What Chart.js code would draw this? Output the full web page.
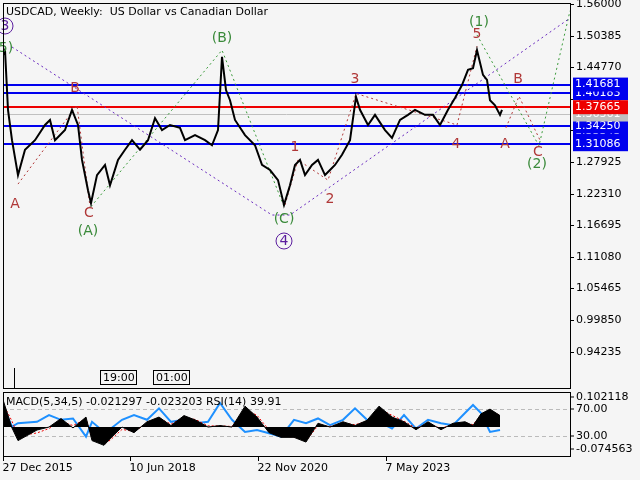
<!DOCTYPE html>
<html><head><meta charset="utf-8">
<script src="https://cdn.jsdelivr.net/npm/chart.js@4/dist/chart.umd.min.js"></script>
<style>
body{margin:0;background:#f5f5f5;width:640px;height:480px;overflow:hidden;position:relative;font-family:"DejaVu Sans"}
.w{position:absolute;left:0}
</style></head><body>
<div class="w" style="top:0;width:640px;height:392px"><canvas id="m" width="640" height="392"></canvas></div>
<div class="w" style="top:389px;width:640px;height:91px"><canvas id="i" width="640" height="91"></canvas></div>
<script>
// Price (week index, close)
const priceWeeks=[0,2,5,9,15,22,32,42,47,52,62,69,75,79,85,88,94,102,107,115,122,129,137,145,152,159,167,177,182,192,202,209,215,219,223,227,232,242,252,259,267,275,281,287,292,297,302,309,315,322,327,332,339,347,353,357,365,372,382,389,397,405,412,422,430,437,445,452,459,465,470,474,480,484,487,492,497,499];
const priceVals=[1.469,1.478,1.372,1.318,1.256,1.301,1.318,1.345,1.354,1.318,1.336,1.372,1.345,1.283,1.229,1.206,1.256,1.274,1.238,1.283,1.301,1.318,1.301,1.318,1.357,1.336,1.345,1.340,1.318,1.327,1.318,1.309,1.336,1.466,1.407,1.389,1.354,1.327,1.309,1.274,1.265,1.247,1.203,1.238,1.274,1.283,1.256,1.274,1.283,1.256,1.265,1.274,1.292,1.318,1.395,1.372,1.345,1.363,1.336,1.322,1.354,1.363,1.372,1.363,1.363,1.345,1.372,1.393,1.416,1.443,1.446,1.478,1.434,1.425,1.389,1.380,1.363,1.372];
const yTicks=[1.56000,1.50385,1.44770,1.39155,1.33540,1.27925,1.22310,1.16695,1.11080,1.05465,0.99850,0.94235];
const blueLevels=[1.41681,1.40183,1.34250,1.31086];
const redLevel=1.37665, grayLevel=1.36361;
// Wave paths [week, price]
const purpleWave=[[9,1.4836],[269,1.185],[287,1.185],[567,1.535]];
const greenWave1=[[88,1.20],[219,1.478],[281,1.200]];
const greenWave2=[[474,1.505],[536,1.308],[567,1.548]];
const redWave1=[[15,1.240],[74,1.380],[87,1.200]];
const redWave2=[[282,1.203],[295,1.283],[325,1.247],[353,1.401],[454,1.345],[474,1.485]];
const redWave3=[[503,1.340],[516,1.396],[537,1.318]];
const labels=[["3",2,26,"#5b1d9e",true],["5)",3,48,"#3a8a3a"],["(1)",476,22,"#3a8a3a"],["5",474,34,"#b03838"],["3",352,79,"#b03838"],["B",72,88,"#b03838"],["B",515,79,"#b03838"],["A",12,204,"#b03838"],["A",502,144,"#b03838"],["C",86,213,"#b03838"],["C",535,152,"#b03838"],["(A)",85,231,"#3a8a3a"],["(B)",219,38,"#3a8a3a"],["(C)",281,219,"#3a8a3a"],["(2)",534,164,"#3a8a3a"],["1",292,147,"#b03838"],["2",327,199,"#b03838"],["4",453,144,"#b03838"],["4",281,241,"#5b1d9e",true]];
// Indicator
const indWeeks=[0,9,15,34,46,58,70,83,89,101,107,119,131,144,156,168,181,193,205,217,229,242,254,266,278,291,303,315,327,340,352,364,376,389,401,413,425,438,450,462,470,478,487,497];
const macdHist=[0.093,-0.003,-0.046,-0.01,0,0.029,-0.003,0.034,-0.046,-0.062,-0.04,0,-0.019,0.018,0.034,0.005,0.039,0.023,0,0.005,0,0.071,0.034,-0.019,-0.035,-0.035,-0.051,0.013,0,0.018,0.005,0.023,0.071,0.034,0.018,-0.009,0.018,-0.009,0.013,0.018,0.005,0.045,0.061,0.039];
const macdSignal=[0.08,0.02,-0.03,-0.02,-0.005,0.02,0.005,0.028,-0.035,-0.058,-0.045,-0.008,-0.015,0.012,0.03,0.01,0.034,0.025,0.004,0.004,0.002,0.06,0.04,-0.01,-0.03,-0.034,-0.047,0.005,0.002,0.014,0.008,0.02,0.062,0.04,0.02,-0.004,0.012,-0.005,0.01,0.015,0.008,0.04,0.055,0.04];
const rsiVals=[74,44,49,51,61,54,56,29,51,36,40,54,61,54,71,51,54,49,51,79,54,36,39,34,29,54,49,56,46,54,71,54,51,41,61,41,54,49,46,64,76,64,36,39];
const dateLabels=[["27 Dec 2015",0],["10 Jun 2018",127],["22 Nov 2020",255],["7 May 2023",383]];

const pts=(w,v)=>w.map((x,k)=>({x:x,y:v[k]}));
const wp=a=>a.map(p=>({x:p[0],y:p[1]}));
const dash=(d,c)=>({data:wp(d),borderColor:c,borderWidth:1,borderDash:[2,3],pointRadius:0,fill:false});
const lvlPlugin={id:'lvl',
 beforeDatasetsDraw(ch){const c=ch.ctx,a=ch.chartArea,y=ch.scales.y;
  c.save();
  c.strokeStyle='#c0c0c0';c.lineWidth=1;c.beginPath();c.moveTo(a.left,y.getPixelForValue(grayLevel));c.lineTo(a.right,y.getPixelForValue(grayLevel));c.stroke();
  c.lineWidth=2;c.strokeStyle='#0000ee';
  blueLevels.forEach(v=>{const py=Math.round(y.getPixelForValue(v));c.beginPath();c.moveTo(a.left,py);c.lineTo(a.right,py);c.stroke();});
  c.strokeStyle='#ee0000';const pr=Math.round(y.getPixelForValue(redLevel));c.beginPath();c.moveTo(a.left,pr);c.lineTo(a.right,pr);c.stroke();
  c.restore();},
 afterDraw(ch){const c=ch.ctx,a=ch.chartArea,y=ch.scales.y;
  c.save();c.font='11px "DejaVu Sans"';c.textBaseline='middle';c.strokeStyle='#000';c.lineWidth=1;c.fillStyle='#000';
  c.beginPath();c.moveTo(a.right+0.5,a.top);c.lineTo(a.right+0.5,a.bottom);c.stroke();
  yTicks.forEach(v=>{const py=Math.round(y.getPixelForValue(v))+0.5;c.beginPath();c.moveTo(a.right,py);c.lineTo(a.right+4,py);c.stroke();c.fillText(v.toFixed(5),a.right+6,py);});
  const box=(v,bg,fg)=>{const py=y.getPixelForValue(v);c.fillStyle=bg;c.fillRect(573,py-7,55,14);c.fillStyle=fg;c.textAlign='left';c.fillText(v.toFixed(5),575,py);};
  box(1.33343,'#0000ee','#fff');box(1.31086,'#0000ee','#fff');box(1.34250,'#0000ee','#fff');
  box(grayLevel,'#c0c0c0','#fff');box(redLevel,'#ee0000','#fff');box(1.40183,'#0000ee','#fff');box(1.41681,'#0000ee','#fff');
  c.font='14px "DejaVu Sans"';c.textAlign='center';
  labels.forEach(l=>{c.fillStyle=l[3];c.fillText(l[0],l[1]+3,l[2]);if(l[4]){c.strokeStyle=l[3];c.lineWidth=1;c.beginPath();c.arc(l[1]+3,l[2],8,0,7);c.stroke();}});
  c.font='11px "DejaVu Sans"';c.fillStyle='#000';c.textAlign='left';
  c.fillText('USDCAD, Weekly:  US Dollar vs Canadian Dollar',6,12);
  c.strokeStyle='#000';c.lineWidth=1;
  c.beginPath();c.moveTo(14.5,368);c.lineTo(14.5,388);c.stroke();
  [['19:00',100],['01:00',153]].forEach(t=>{c.strokeRect(t[1]+0.5,370.5,36,14);c.fillText(t[0],t[1]+3,378);});
  c.strokeRect(a.left+0.5,a.top+0.5,a.right-a.left,a.bottom-a.top);
  c.restore();}};
new Chart(document.getElementById('m'),{type:'line',
 data:{datasets:[
  {data:pts(priceWeeks,priceVals),borderColor:'#000',borderWidth:2,pointRadius:0,tension:0},
  dash(purpleWave,'#6a2bbf'),dash(greenWave1,'#3a9a3a'),dash(greenWave2,'#3a9a3a'),
  dash(redWave1,'#b03838'),dash(redWave2,'#b03838'),dash(redWave3,'#b03838')]},
 options:{responsive:false,animation:false,devicePixelRatio:1,
  layout:{padding:{left:3,top:3,right:70,bottom:4}},
  plugins:{legend:{display:false},tooltip:{enabled:false}},
  scales:{x:{type:'linear',min:0,max:567,display:false},
   y:{min:0.8776,max:1.5618,display:false}}},
 plugins:[lvlPlugin]});

const indPlugin={id:'ind',
 beforeDatasetsDraw(ch){const c=ch.ctx,a=ch.chartArea,r=ch.scales.rsi;c.save();c.strokeStyle='#bbb';c.setLineDash([4,3]);
  [70,30].forEach(v=>{const py=Math.round(r.getPixelForValue(v))+0.5;c.beginPath();c.moveTo(a.left,py);c.lineTo(a.right,py);c.stroke();});c.restore();},
 afterDraw(ch){const c=ch.ctx,a=ch.chartArea,r=ch.scales.rsi,m=ch.scales.m;c.save();
  c.strokeStyle='#000';c.lineWidth=1;c.strokeRect(a.left+0.5,a.top+0.5,a.right-a.left,a.bottom-a.top);
  c.font='11px "DejaVu Sans"';c.fillStyle='#000';c.textBaseline='middle';c.textAlign='left';
  c.fillText('MACD(5,34,5) -0.021297 -0.023203 RSI(14) 39.91',6,a.top+10);
  const lab=(t,py)=>{c.beginPath();c.moveTo(a.right,py);c.lineTo(a.right+4,py);c.stroke();c.fillText(t,a.right+6,py);};
  lab('0.102118',m.getPixelForValue(0.102118));lab('70.00',r.getPixelForValue(70));lab('30.00',r.getPixelForValue(30));lab('-0.074563',m.getPixelForValue(-0.074563));
  const x=ch.scales.x;
  dateLabels.forEach(d=>{const px=Math.round(x.getPixelForValue(d[1]))+0.5;c.beginPath();c.moveTo(px,a.bottom);c.lineTo(px,a.bottom+5);c.stroke();c.fillText(d[0],px-1,a.bottom+12);});
  c.restore();}};
new Chart(document.getElementById('i'),{type:'line',
 data:{datasets:[
  {data:pts(indWeeks,macdHist),yAxisID:'m',borderColor:'#000',backgroundColor:'#000',borderWidth:1,pointRadius:0,fill:'origin',tension:0},
  {data:pts(indWeeks,macdSignal),yAxisID:'m',borderColor:'#ee0000',borderWidth:1,borderDash:[2,2],pointRadius:0,fill:false},
  {data:pts(indWeeks,rsiVals),yAxisID:'rsi',borderColor:'#1e90ff',borderWidth:2,pointRadius:0,fill:false}]},
 options:{responsive:false,animation:false,devicePixelRatio:1,
  layout:{padding:{left:3,top:3,right:70,bottom:24}},
  plugins:{legend:{display:false},tooltip:{enabled:false}},
  scales:{x:{type:'linear',axis:'x',min:0,max:567,display:false},
   m:{type:'linear',axis:'y',position:'left',min:-0.0983,max:0.1191,display:false},
   rsi:{type:'linear',axis:'y',position:'right',min:0.37,max:95.2,display:false}}},
 plugins:[indPlugin]});
</script></body></html>
